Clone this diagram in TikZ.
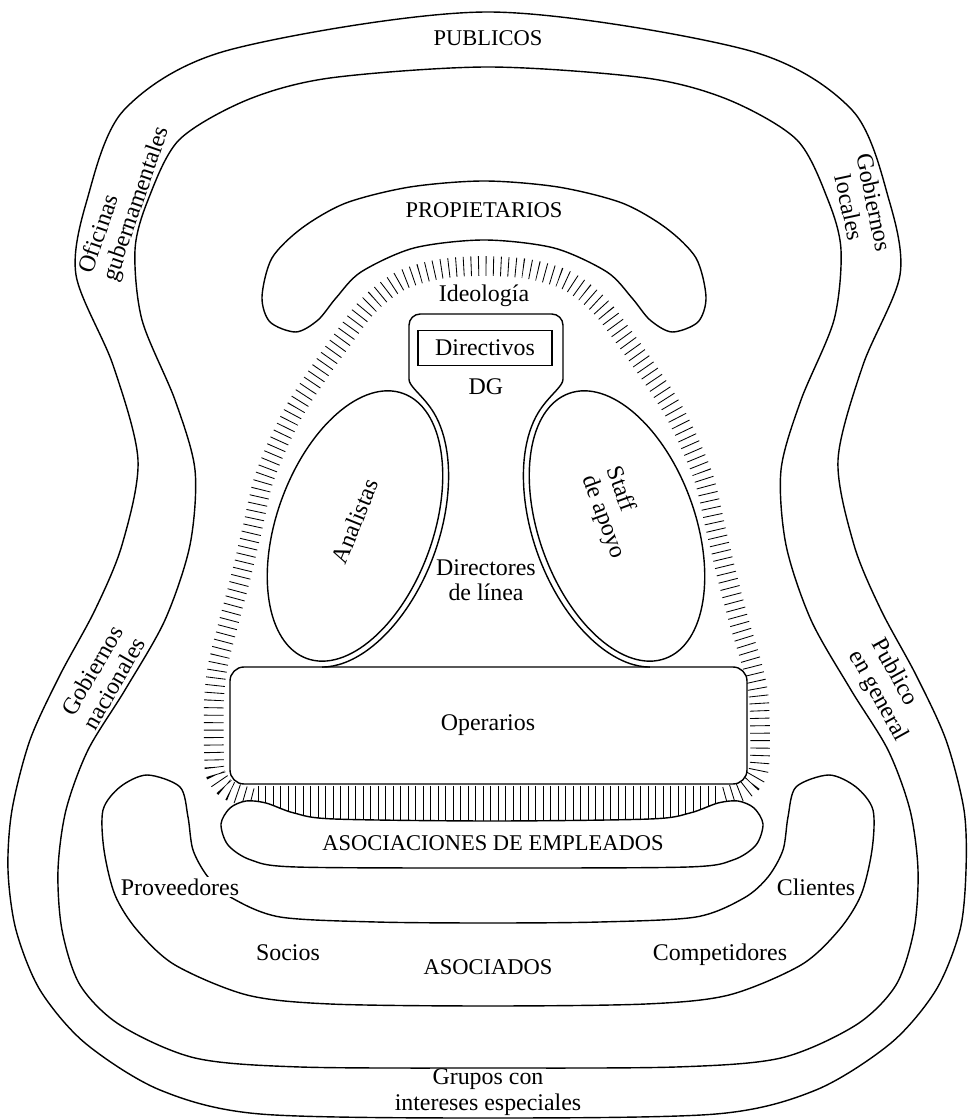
\documentclass[tikz,border=0pt]{standalone}
\usepackage{fontspec}
\setmainfont{Liberation Serif}

\tikzset{
  zone/.style={line width=1pt},
  hatch/.style={line width=0.6pt},
  lbl/.style={font=\fontsize{17}{18}\selectfont, inner sep=1pt, align=center},
  caps/.style={font=\fontsize{16}{18}\selectfont, inner sep=1pt},
  ideologia/.style={line width=14pt, dash pattern=on 0.6pt off 4.7pt}
}

\begin{document}
\begin{tikzpicture}[x=0.025cm, y=0.025cm]
\useasboundingbox (0,0) rectangle (969,1120);

% publicos
\draw[zone] plot[smooth cycle] coordinates {(488,1108) (747,1070) (852,1010) (889,920) (900,845)
  (863,755) (838,660) (854,575) (881,510) (916,445) (946,380) (964,310) (966,250) (960,190)
  (936,130) (891,77) (816,30) (716,6) (488,2) (260,6) (160,30) (85,77) (40,130) (16,190)
  (8,250) (12,310) (30,380) (60,445) (95,510) (122,575) (138,660) (113,755) (76,845) (87,920)
  (124,1010) (229,1070)};
\draw[zone] plot[smooth cycle] coordinates {(488,1053) (646,1042) (729,1020) (797,980) (828,920)
  (841,870) (834,800) (801,720) (781,650) (786,575) (811,500) (851,430) (888,370) (910,310)
  (918,250) (914,190) (896,135) (856,95) (781,62) (676,53) (488,52) (300,53) (195,62) (120,95)
  (80,135) (62,190) (58,250) (66,310) (88,370) (125,430) (165,500) (190,575) (195,650)
  (175,720) (142,800) (135,870) (148,920) (179,980) (247,1020) (330,1042)};

% asociados
\draw[zone] plot[smooth cycle] coordinates {(147,345) (120,333) (103,310) (104,270) (115,225)
  (137,190) (175,155) (247,125) (330,116) (488,114) (646,116) (729,125) (801,155) (839,190)
  (861,225) (872,270) (873,310) (856,333) (829,345) (796,333) (788,303) (783,270) (768,243)
  (744,222) (696,203) (600,198) (488,197) (376,198) (280,203) (232,222) (208,243) (193,270)
  (188,303) (180,333)};

% propietarios
\draw[zone] plot[smooth cycle] coordinates {(262,823) (272,862) (302,892) (346,917) (410,933)
  (484,939) (558,933) (622,917) (666,892) (696,862) (706,823) (698,798) (672,788) (650,800)
  (632,822) (607,848) (554,872) (484,880) (414,872) (361,848) (336,822) (318,800) (296,788)
  (270,798)};

% ideologia
\draw[ideologia] plot[smooth] coordinates {(252,322) (228,330) (216,345) (214,365) (214,420)
  (218,455) (228,495) (240,540) (252,590) (263,638) (278,676) (296,712) (318,746) (342,780)
  (368,814) (400,839) (440,851) (484,854) (528,851) (568,839) (600,814) (626,780) (650,746)
  (672,712) (690,676) (705,638) (716,590) (728,540) (740,495) (752,455) (759,420) (760,365)
  (757,345) (744,330) (720,322)};
\foreach \x in {258,265.5,...,716}
  \draw[hatch] (\x,334) -- (\x,298);

% asociaciones de empleados
\draw[zone, fill=white] plot[smooth cycle] coordinates {(221,296) (230,312) (246,319) (266,317)
  (294,307) (334,301) (492,299) (650,301) (690,307) (718,317) (738,319) (754,312) (763,296)
  (756,275) (733,260) (688,253) (492,252) (296,253) (251,260) (228,275)};

% operarios, analistas, staff
\draw[zone, fill=white, rounded corners=10pt] (230,336) rectangle (747,453);
\draw[zone, fill=white, rotate around={70:(355,594)}] (355,594) ellipse [x radius=141, y radius=78];
\draw[zone, fill=white, rotate around={110:(617,594)}] (617,594) ellipse [x radius=141, y radius=78];

% linea media
\begin{scope}[shift={(355,594)}, rotate=70]
  \draw[zone] (-22:147 and 84) arc[start angle=-22, end angle=-168, x radius=147, y radius=84];
  \coordinate (nl) at (-22:147 and 84);
\end{scope}
\begin{scope}[shift={(617,594)}, rotate=110]
  \draw[zone] (22:147 and 84) arc[start angle=22, end angle=168, x radius=147, y radius=84];
  \coordinate (nr) at (22:147 and 84);
\end{scope}
\draw[zone, rounded corners=8pt] (nl) to[out=125,in=-90] (409,752) -- (409,806)
  -- (563,806) -- (563,752) to[out=-90,in=55] (nr);

\node[caps] (publicos) at (488,1082) {PUBLICOS};
\node[caps] (propietarios) at (484,910) {PROPIETARIOS};
\node[lbl] (ideologia) at (484,824) {Ideología};
\node[lbl, draw, zone, minimum width=3.35cm, minimum height=0.875cm] (directivos) at (485,772) {Directivos};
\node[lbl] (dg) at (486,733) {DG};
\node[lbl, rotate=68] (analistas) at (355,599) {Analistas};
\node[lbl, rotate=-70, align=left] (staff) at (615,607) {Staff\\de apoyo};
\node[lbl] (directores) at (486,540) {Directores\\de línea};
\node[lbl] (operarios) at (488,395) {Operarios};
\node[caps] (asociaciones) at (493,277) {ASOCIACIONES DE EMPLEADOS};
\node[lbl, fill=white] (proveedores) at (180,233) {Proveedores};
\node[lbl, fill=white] (clientes) at (816,233) {Clientes};
\node[lbl] (socios) at (288,167) {Socios};
\node[caps] (asociados) at (488,153) {ASOCIADOS};
\node[lbl] (competidores) at (720,165) {Competidores};
\node[lbl] (grupos) at (488,28) {Grupos con\\intereses especiales};
\node[lbl, rotate=71, align=left] (oficinas) at (125,920) {Oficinas\\gubernamentales};
\node[lbl, rotate=-78] (locales) at (862,915) {Gobiernos\\locales};
\node[lbl, rotate=60] (nacionales) at (103,443) {Gobiernos\\nacionales};
\node[lbl, rotate=-61, align=left] (general) at (889,430) {Publico\\en general};
\end{tikzpicture}
\end{document}
